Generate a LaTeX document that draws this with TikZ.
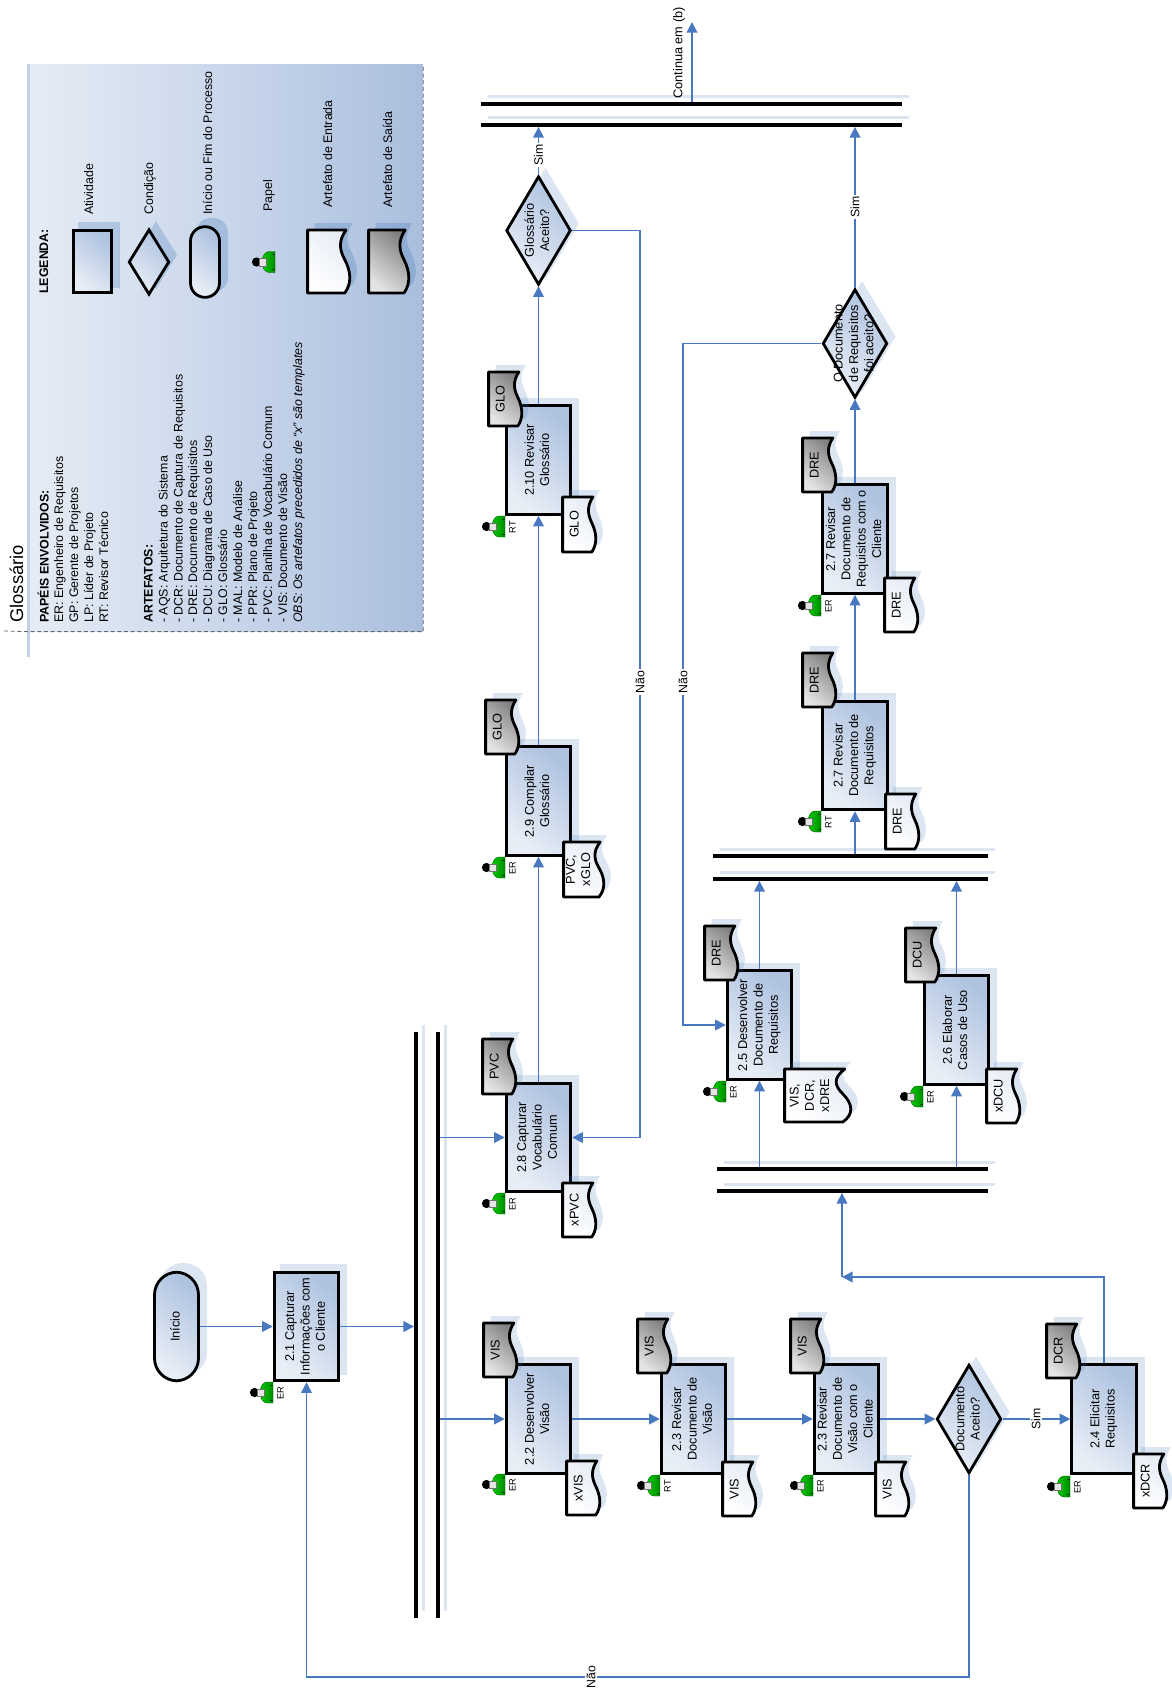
\documentclass[tikz,border=0pt]{standalone}
\usepackage{fontspec}
\usepackage{graphicx}
\setmainfont{Liberation Sans}
\usetikzlibrary{arrows.meta,shapes.geometric}
\definecolor{cl}{HTML}{E8EEF6}
\definecolor{cd}{HTML}{AFC3E0}
\definecolor{ln}{HTML}{4878C0}
\definecolor{sb}{HTML}{4F81BD}
\definecolor{E1}{HTML}{E6ECF5}
\definecolor{E2}{HTML}{E4E4E4}
\definecolor{E3}{HTML}{808080}
\definecolor{E4}{HTML}{E6ECF5}
\definecolor{E5}{HTML}{AABEDD}
\definecolor{E6}{HTML}{C9D7EB}
\newcommand\vtx[1]{\rotatebox{90}{\begin{tabular}{@{}c@{}}#1\end{tabular}}}
\tikzset{
  sombra/.style={fill=sb,fill opacity=.2,draw=none},
  ativ/.style={draw=black,line width=2.1pt,inner sep=0pt,bottom color=cl,top color=cd,shading angle=-40,font=\fontsize{9.55}{11.5}\selectfont,align=center},
  cond/.style={diamond,draw=black,line width=2.1pt,inner sep=0pt,bottom color=cl,top color=cd,shading angle=-40,minimum width=48.5pt,minimum height=81.5pt},
  txt/.style={font=\fontsize{9.55}{11.5}\selectfont,inner sep=0pt},
  arr/.style={draw=ln,line width=1.25pt,-{Triangle[length=8pt,width=8pt]}},
  lbl/.style={font=\fontsize{9.2}{11}\selectfont,fill=white,inner sep=1pt,rotate=90},
  role/.style={font=\fontsize{6.9}{7}\selectfont,rotate=90,inner sep=0pt},
  barra/.style={fill=black,inner sep=0pt,draw=none},
  docb/.style={draw=black,line width=2.1pt,line join=round,bottom color=white,top color=E1,shading angle=-40},
  docc/.style={draw=black,line width=2.1pt,line join=round,bottom color=E2,top color=E3,shading angle=-40},
  leg/.style={font=\fontsize{9.3}{11}\selectfont,rotate=90,anchor=base west,inner sep=0pt},
  legb/.style={leg,font=\fontsize{9.3}{11}\bfseries\selectfont},
}
% activity: name, cx, cy, text
\newcommand\atividade[4]{%
  \fill[sombra] ({#2-26.5},{#3-62.5}) rectangle ({#2+40.5},{#3+48.5});
  \node[ativ,minimum width=48.5pt,minimum height=81.5pt] (#1) at (#2,#3) {\vtx{#4}};
}
% decision: name, cx, cy, text
\newcommand\condicao[4]{%
  \fill[sombra] ({#2+7},{#3-62.5}) -- ({#2+40.5},{#3-7}) -- ({#2+7},{#3+48.5}) -- ({#2-26.5},{#3-7}) -- cycle;
  \node[cond] (#1) at (#2,#3) {};
  \node[txt] (#1t) at (#1.center) {\vtx{#4}};
}
\newcommand\docpath{(0,0) -- (91,0) .. controls (72,18) and (76,32) .. (88,47) .. controls (103,66) and (105,85) .. (88,100) -- (0,100) -- cycle}
% artefact: name, x, y, w, h, style, text
\newcommand\artefato[7]{%
  \begin{scope}[shift={({#2+.6},{#3+1})}]
    \begin{scope}[shift={(7,-7)},xscale=(#4-.8)/100,yscale=(#5-2)/100]
      \fill[sombra] \docpath;
    \end{scope}
    \begin{scope}[xscale=(#4-.8)/100,yscale=(#5-2)/100]
      \path[#6] \docpath;
    \end{scope}
  \end{scope}
  \node[txt] (#1) at ({#2+0.4*#4},{#3+0.5*#5}) {\vtx{#7}};
}
% role: x (flat side), y (top)
\newcommand\pessoa[2]{%
  \begin{scope}[shift={(#1,#2)}]
    \path[left color=green!80!black,right color=green!55!black,draw=green!35!black,line width=.3pt] (0,0) -- (-6,0) .. controls (-10,0) and (-13,5) .. (-13,10.5) .. controls (-13,16) and (-10,21) .. (-6,21) -- (0,21) -- cycle;
    \draw[green!25!black,line width=.3pt] (-3,3) -- (0,3) (-3,18) -- (0,18);
    \fill[black] (-18.5,10.5) circle[radius=4.6];
    \path[fill=white!90!black,draw=black!55,line width=.3pt] (-16,7) rectangle (-9,14.5);
  \end{scope}
}
\newcommand\papel[4]{%
  \pessoa{#2}{#3}
  \node[role] (#1) at ({#2+7.5},{#3+11}) {#4};
}
\newcommand\hb[4]{%
  \fill[sombra] ({#2-#4/2+7},{#3-8.5}) rectangle ({#2+#4/2+7},{#3-5.5});
  \node[barra,minimum width=#4*.75pt,minimum height=2.5pt] (#1) at (#2,#3) {};
}
\newcommand\vb[4]{%
  \fill[sombra] ({#2+5.5},{#3-#4/2-7}) rectangle ({#2+8.5},{#3+#4/2-7});
  \node[barra,minimum width=2.5pt,minimum height=#4*.75pt] (#1) at (#2,#3) {};
}
\begin{document}
\begin{tikzpicture}[x=0.75pt,y=-0.75pt]
\useasboundingbox (0,0) rectangle (1171,1691);
% ---- Legend panel
\node[inner sep=0pt,minimum width=297pt,minimum height=425pt,left color=E4,right color=E5,middle color=E6] (painel) at (225,348) {};
\fill[cd!75!white] (26.5,64.5) rectangle (30,657);
\draw[densely dashed,draw=black!60,line width=.6pt] (4,631) -- (painel.south west) -- (painel.south east) -- (painel.north east);
\node[leg,font=\fontsize{13.8}{16}\selectfont] (tit) at (23,623) {Glossário};
\node[legb] (l1) at (48.5,623) {PAPÉIS ENVOLVIDOS:};
\node[leg] (l2) at (63,623) {ER: Engenheiro de Requisitos};
\node[leg] (l3) at (78,623) {GP: Gerente de Projetos};
\node[leg] (l4) at (93,623) {LP: Líder de Projeto};
\node[leg] (l5) at (108,623) {RT: Revisor Técnico};
\node[legb] (l6) at (152.5,623) {ARTEFATOS:};
\node[leg] (l7) at (167.5,623) {- AQS: Arquitetura do Sistema};
\node[leg] (l8) at (182.5,623) {- DCR: Documento de Captura de Requisitos};
\node[leg] (l9) at (197,623) {- DRE: Documento de Requisitos};
\node[leg] (l10) at (212,623) {- DCU: Diagrama de Caso de Uso};
\node[leg] (l11) at (227,623) {- GLO: Glossário};
\node[leg] (l12) at (242,623) {- MAL: Modelo de Análise};
\node[leg] (l13) at (257,623) {- PPR: Plano de Projeto};
\node[leg] (l14) at (272,623) {- PVC: Planilha de Vocabulário Comum};
\node[leg] (l15) at (287,623) {- VIS: Documento de Visão};
\node[leg,font=\fontsize{9.3}{11}\itshape\selectfont] (l16) at (302,623) {OBS: Os artefatos precedidos de “x” são templates};
\node[legb] (l17) at (48,294) {LEGENDA:};
\node[leg] (l18) at (93,215) {Atividade};
\node[leg] (l19) at (153,215) {Condição};
\node[leg] (l20) at (212,215) {Início ou Fim do Processo};
\node[leg] (l21) at (272,212) {Papel};
\node[leg] (l22) at (332,208) {Artefato de Entrada};
\node[leg] (l23) at (392,208) {Artefato de Saída};
\begin{scope}[sombra/.style={fill=sb,fill opacity=.3,draw=none}]
  \fill[sombra] (78,222) rectangle (120,288);
  \node[ativ,minimum width=28.5pt,minimum height=46.5pt] (la) at (92.5,261.5) {};
  \fill[sombra] (156,221) -- (177,255) -- (156,289) -- (135,255) -- cycle;
  \node[cond,minimum width=30.5pt,minimum height=49pt] (lc) at (149,262) {};
  \fill[sombra,rounded corners=10.8pt] (196,218) rectangle (228,292);
  \node[ativ,rounded corners=10.8pt,minimum width=21.75pt,minimum height=53pt] (li) at (205,262) {};
  \pessoa{275}{251.5}
  \artefato{ld1}{307}{229}{43}{65}{docb}{}
  \artefato{ld2}{368}{229}{41}{65}{docc}{}
\end{scope}
% ---- Flow
\vb{v1}{416}{1325}{586}
\vb{v2}{438}{1325}{586}
\hb{t1}{691.5}{104}{421}
\hb{t2}{691.5}{125}{421}
\hb{m1}{850.5}{856}{275}
\hb{m2}{850.5}{879}{275}
\hb{n1}{852.5}{1169}{271}
\hb{n2}{852.5}{1191}{271}
% start
\fill[sombra,rounded corners=17pt] (160,1263) rectangle (207,1375);
\node[ativ,rounded corners=17pt,minimum width=33pt,minimum height=81.5pt] (inicio) at (176.5,1326.5) {\vtx{Início}};
\atividade{b21}{306.5}{1326.5}{2.1 Capturar\\Informações com\\o Cliente}
\atividade{b22}{538.5}{1419}{2.2 Desenvolver\\Visão}
\atividade{b23a}{693.5}{1419}{2.3 Revisar\\Documento de\\Visão}
\atividade{b23b}{846.5}{1419}{2.3 Revisar\\Documento de\\Visão com o\\Cliente}
\condicao{d1}{969}{1419}{Documento\\Aceito?}
\atividade{b24}{1104}{1419}{2.4 Elicitar\\Requisitos}
\atividade{b28}{538.5}{1137.5}{2.8 Capturar\\Vocabulário\\Comum}
\atividade{b29}{538.5}{801}{2.9 Compilar\\Glossário}
\atividade{b210}{538.5}{460}{2.10 Revisar\\Glossário}
\condicao{d2}{538.5}{230.5}{Glossário\\Aceito?}
\atividade{b25}{759.5}{1025}{2.5 Desenvolver\\Documento de\\Requisitos}
\atividade{b26}{956.5}{1030}{2.6 Elaborar\\Casos de Uso}
\atividade{b27a}{855}{755.5}{2.7 Revisar\\Documento de\\Requisitos}
\atividade{b27b}{855}{539}{2.7 Revisar\\Documento de\\Requisitos com o\\Cliente}
\condicao{d3}{855}{343.5}{O Documento\\de Requisitos\\foi aceito?}
% connectors
\coordinate (cb) at (0,1677);
\coordinate (c2) at (842,1277);
\coordinate (c3) at (640,0);
\coordinate (c4) at (683,0);
\coordinate (c5) at (692,22);
\draw[arr] (inicio.east) -- (b21.west);
\draw[arr] (b21.east) -- (b21.east -| v1.west);
\draw[arr] (v2.east |- b22.west) -- (b22.west);
\draw[arr] (b22.east) -- (b23a.west);
\draw[arr] (b23a.east) -- (b23b.west);
\draw[arr] (b23b.east) -- (d1.west);
\draw[arr] (d1.east) -- (b24.west);
\draw[arr] (d1.south) -- (d1.south |- cb) -- (b21.south |- cb) -- (b21.south);
\draw[arr] (b24.north) -- (b24.north |- c2) -- (c2);
\draw[arr] (c2) -- (c2 |- n2.south);
\draw[arr] (v2.east |- b28.west) -- (b28.west);
\draw[arr] (b28.north) -- (b29.south);
\draw[arr] (b29.north) -- (b210.south);
\draw[arr] (b210.north) -- (d2.south);
\draw[arr] (d2.north) -- (d2.north |- t2.south);
\draw[arr] (d2.east) -- (c3 |- d2.east) -- (c3 |- b28.east) -- (b28.east);
\draw[arr] (b25.south |- n1.north) -- (b25.south);
\draw[arr] (b26.south |- n1.north) -- (b26.south);
\draw[arr] (b25.north) -- (b25.north |- m2.south);
\draw[arr] (b26.north) -- (b26.north |- m2.south);
\draw[arr] (b27a.south |- m1.north) -- (b27a.south);
\draw[arr] (b27a.north) -- (b27b.south);
\draw[arr] (b27b.north) -- (d3.south);
\draw[arr] (d3.north) -- (d3.north |- t2.south);
\draw[arr] (d3.west) -- (c4 |- d3.west) -- (c4 |- b25.west) -- (b25.west);
\draw[arr] (c5 |- t1.north) -- (c5);
\node[lbl] (s1) at (538.5,155) {Sim};
\node[lbl] (s2) at (855,207) {Sim};
\node[lbl] (s3) at (1036,1419) {Sim};
\node[lbl] (n1l) at (591,1677) {Não};
\node[lbl] (n2l) at (640,682) {Não};
\node[lbl] (n3l) at (683,682) {Não};
\node[txt,rotate=90] (cont) at (679,53) {Continua em (b)};
% artefacts
\artefato{o22}{483}{1322}{34}{56}{docc}{VIS}
\artefato{o23a}{637}{1318}{34}{56}{docc}{VIS}
\artefato{o23b}{790}{1318}{34}{56}{docc}{VIS}
\artefato{o24}{1046}{1323}{34}{56}{docc}{DCR}
\artefato{o28}{482}{1038}{34}{57}{docc}{PVC}
\artefato{o25}{704}{925}{34}{56}{docc}{DRE}
\artefato{o26}{905}{927}{34}{56}{docc}{DCU}
\artefato{o29}{485}{699}{34}{56}{docc}{GLO}
\artefato{o210}{488}{371}{34}{56}{docc}{GLO}
\artefato{o27a}{802}{652}{34}{56}{docc}{DRE}
\artefato{o27b}{802}{437}{34}{56}{docc}{DRE}
\artefato{i22}{566}{1460}{34}{56}{docb}{xVIS}
\artefato{i23a}{722}{1461}{34}{56}{docb}{VIS}
\artefato{i23b}{875}{1461}{34}{56}{docb}{VIS}
\artefato{i24}{1133}{1453}{34}{56}{docb}{xDCR}
\artefato{i28}{562}{1182}{34}{56}{docb}{xPVC}
\artefato{i25}{784}{1068}{67}{55}{docb}{VIS,\\DCR,\\xDRE}
\artefato{i26}{986}{1068}{34}{56}{docb}{xDCU}
\artefato{i29}{563}{841}{41}{57}{docb}{PVC,\\xGLO}
\artefato{i210}{562}{496}{34}{57}{docb}{GLO}
\artefato{i27a}{885}{793}{34}{57}{docb}{DRE}
\artefato{i27b}{884}{577}{34}{56}{docb}{DRE}
% roles
\papel{r21}{273}{1382}{ER}
\papel{r22}{505}{1474}{ER}
\papel{r23a}{660}{1475}{RT}
\papel{r23b}{813}{1475}{ER}
\papel{r24}{1070}{1476}{ER}
\papel{r28}{505}{1193}{ER}
\papel{r29}{505}{857}{ER}
\papel{r210}{505}{516}{RT}
\papel{r25}{726}{1081}{ER}
\papel{r26}{923}{1086}{ER}
\papel{r27a}{821}{811}{RT}
\papel{r27b}{821}{595}{ER}
\end{tikzpicture}
\end{document}
